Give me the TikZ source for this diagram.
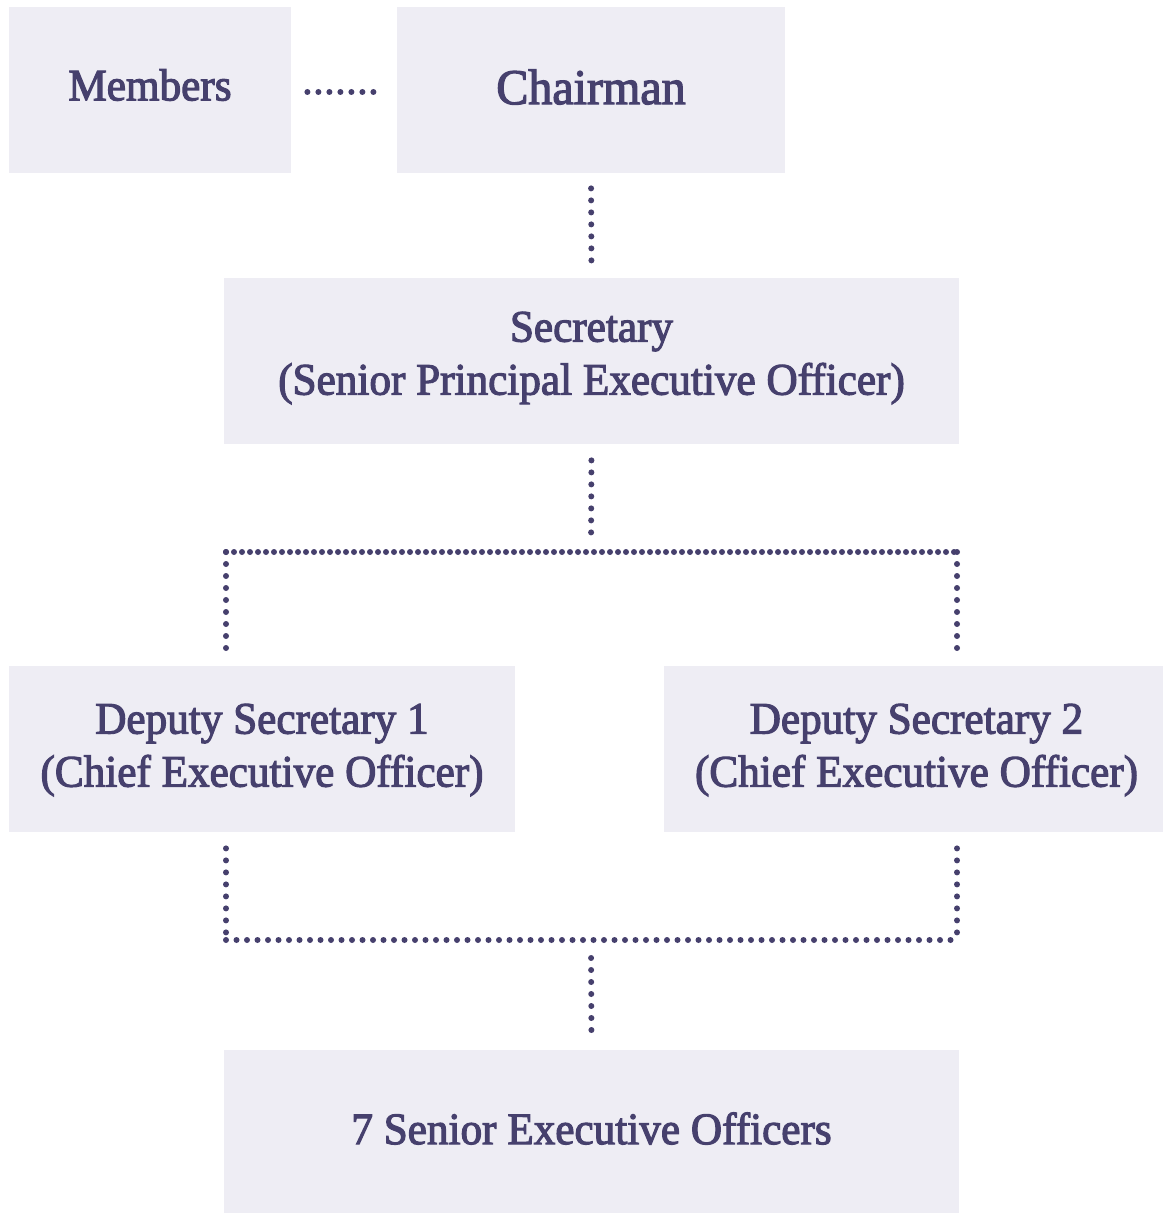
\documentclass[tikz,border=0pt]{standalone}
\usepackage{fontspec}
\newfontfamily\boxfont[FakeStretch=0.96,FakeBold=2.5]{Liberation Serif}
\definecolor{boxfill}{HTML}{EEEDF4}
\definecolor{ink}{HTML}{46406D}
\begin{document}
\begin{tikzpicture}[x=0.5pt,y=-0.5pt,
  box/.style={fill=boxfill,draw=none,inner sep=0pt,text=ink,align=center,
    font=\boxfont\fontsize{22.5pt}{26.5pt}\selectfont},
  lbl/.style={text=ink,align=center,inner sep=0pt,
    font=\boxfont\fontsize{22.5pt}{26.5pt}\selectfont},
  dotline/.style={draw=ink,line width=3pt,line cap=round,dash pattern=on 0pt off 6pt},
  dotdense/.style={draw=ink,line width=3pt,line cap=round,dash pattern=on 0pt off 4pt},
  dotmid/.style={draw=ink,line width=3pt,line cap=round,dash pattern=on 0pt off 5.25pt}]
\useasboundingbox (0,0) rectangle (1163,1213);
\node[box,minimum width=141pt,minimum height=83pt] (mem) at (150,90) {};
\node[lbl] (memt) at (150,85) {Members};
\node[box,minimum width=194pt,minimum height=83pt] (chair) at (591,90) {};
\node[lbl,font=\boxfont\fontsize{25pt}{30pt}\selectfont] (chairt) at (591,87) {Chairman};
\node[box,minimum width=367.5pt,minimum height=83pt] (sec) at (591.5,361) {};
\node[lbl] (sect) at (591.5,358) {Secretary\\(Senior Principal Executive Officer)};
\node[box,minimum width=253pt,minimum height=83pt] (ds1) at (262,749) {};
\node[lbl] (ds1t) at (262,750) {Deputy Secretary 1\\(Chief Executive Officer)};
\node[box,minimum width=249.5pt,minimum height=83pt] (ds2) at (913.5,749) {};
\node[lbl] (ds2t) at (916.5,750) {Deputy Secretary 2\\(Chief Executive Officer)};
\node[box,minimum width=367.5pt,minimum height=81.5pt] (seo) at (591.5,1131.5) {};
\node[lbl] (seot) at (591.5,1128.5) {7 Senior Executive Officers};
\coordinate (jt) at (591,552);
\coordinate (jtl) at (226,552);
\coordinate (jtr) at (957,552);
\coordinate (jb) at (591,940);
\coordinate (jbl) at (226,940);
\coordinate (jbr) at (957,940);
\draw[dotline,dash pattern=on 0pt off 5.5pt,shorten <=8pt,shorten >=10pt] ([yshift=-1pt]mem.east) -- ([yshift=-1pt]chair.west);
\draw[dotline,shorten <=7.5pt,shorten >=8pt] (chair.south) -- (sec.north);
\draw[dotline,shorten <=8pt,shorten >=8pt] (sec.south) -- (jt);
\draw[dotdense] (jtl) -- (jtr);
\draw[dotline] (jtl) -- ([yshift=8pt]jtl |- ds1.north);
\draw[dotline] (jtr) -- ([yshift=8pt]jtr |- ds2.north);
\draw[dotline] ([yshift=-8pt]jbl |- ds1.south) -- (jbl);
\draw[dotline] ([yshift=-8pt]jbr |- ds2.south) -- (jbr);
\draw[dotmid] (jbl) -- (jbr);
\draw[dotline,shorten <=9pt,shorten >=9pt] (jb) -- (seo.north);
\end{tikzpicture}
\end{document}
